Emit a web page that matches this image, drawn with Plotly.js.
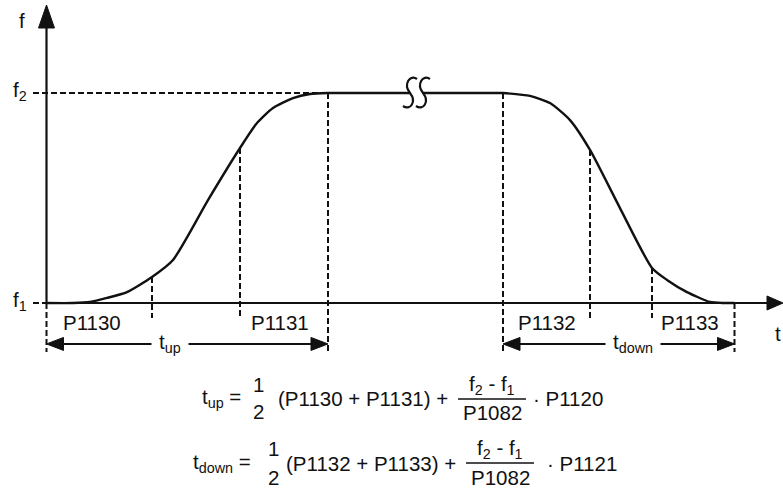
<!DOCTYPE html>
<html><head><meta charset="utf-8">
<script src="https://cdn.plot.ly/plotly-3.0.1.min.js"></script>
<style>html,body{margin:0;padding:0;background:#fff}#chart{width:783px;height:489px}</style>
</head><body><div id="chart"></div>
<script>
// ---- data (t in arbitrary time units, f normalised: f1 = 0, f2 = 1) ----
const riseT = [0, 2.65, 4.35, 6.05, 8.05, 10.55, 12.65, 16.15, 19.35, 21.05, 22.65, 24.65, 26.35, 28.15];
const riseF = [0, 0, 0.005, 0.024, 0.052, 0.124, 0.205, 0.490, 0.738, 0.857, 0.929, 0.976, 0.995, 1];
const holdT = [28.15, 36.35, null, 37.65, 45.65];
const holdF = [1, 1, null, 1, 1];
const fallT = [45.65, 48.35, 50.35, 52.35, 54.35, 57.35, 60.55, 62.05, 64.05, 66.35, 67.65, 68.8];
const fallF = [1, 0.986, 0.952, 0.871, 0.729, 0.452, 0.167, 0.110, 0.052, 0.005, 0, 0];

const markT      = [0, 10.55, 19.35, 28.15, 45.65, 54.35, 60.55, 68.8];
const markTop    = [0, 0.124, 0.738, 1, 1, 0.729, 0.167, 0];
const markBottom = [-0.233, -0.071, -0.071, -0.233, -0.233, -0.071, -0.071, -0.233];

const paramLabels = ['P1130', 'P1131', 'P1132', 'P1133'];
const paramT      = [4.55, 23.35, 50.05, 64.35];
const paramF      = -0.095;

const spanLabels = ['t<sub>up</sub>', 't<sub>down</sub>'];
const spanStart  = [0, 45.65];
const spanEnd    = [28.15, 68.8];
const spanTextT  = [12.35, 58.65];
const spanF      = -0.195;

const levelLabels = ['f<sub>1</sub>', 'f<sub>2</sub>'];
const levelF      = [0, 1];
const breakT      = [36.35, 37.65];

const formula1 = ['t<sub>up</sub> =', '1', '2', '(P1130 + P1131) +', 'f<sub>2</sub> - f<sub>1</sub>', 'P1082', '· P1120'];
const formula2 = ['t<sub>down</sub> =', '1', '2', '(P1132 + P1133) +', 'f<sub>2</sub> - f<sub>1</sub>', 'P1082', '· P1121'];

// ---- pixel helpers (layout only) ----
const tx = px => (px - 46.5) / 10;
const fy = py => (303 - py) / 210;
const INK = '#111';
const FONT = {family: 'Arial, "Liberation Sans", sans-serif', size: 20.5, color: INK};

const traces = [];
// axes
traces.push({x: [0, 0], y: [0, fy(26)], mode: 'lines', line: {color: INK, width: 2.2}});
traces.push({x: [0, tx(769)], y: [0, 0], mode: 'lines', line: {color: INK, width: 2.2}});
// dashed guides
let gx = [], gy = [];
markT.forEach((t, i) => { gx.push(t, t, null); gy.push(markTop[i], markBottom[i], null); });
gx.push(tx(33), riseT[riseT.length - 1], null, tx(33), 0);
gy.push(1, 1, null, 0, 0);
traces.push({x: gx, y: gy, mode: 'lines', line: {color: INK, width: 2, dash: '6px,3px'}});
// curve
traces.push({x: riseT, y: riseF, mode: 'lines', line: {color: INK, width: 2.4, shape: 'spline', smoothing: 0.6}});
traces.push({x: holdT, y: holdF, mode: 'lines', line: {color: INK, width: 2.4}});
traces.push({x: fallT, y: fallF, mode: 'lines', line: {color: INK, width: 2.4, shape: 'spline', smoothing: 0.6}});
// span arrows
let sx = [], sy = [], hx = [], hy = [];
const hl = 1.7, hh = 6.5 / 210;
spanStart.forEach((s, i) => {
  const e = spanEnd[i];
  sx.push(s + 0.5, e - 0.5, null); sy.push(spanF, spanF, null);
  hx.push(s, s + hl, s + hl, s, null); hy.push(spanF, spanF + hh, spanF - hh, spanF, null);
  hx.push(e, e - hl, e - hl, e, null); hy.push(spanF, spanF + hh, spanF - hh, spanF, null);
});
// axis arrowheads
hx.push(0, -0.8, 0.8, 0, null); hy.push(fy(5), fy(28), fy(28), fy(5), null);
hx.push(tx(783), tx(767), tx(767), tx(783), null); hy.push(0, 7 / 210, -7 / 210, 0, null);
traces.push({x: sx, y: sy, mode: 'lines', line: {color: INK, width: 2}});
traces.push({x: hx, y: hy, mode: 'lines', fill: 'toself', fillcolor: INK, line: {color: INK, width: 1}});

const ann = [];
const A = (text, x, y, xanchor, extra) => ann.push(Object.assign({text, x, y, xref: 'x', yref: 'y', showarrow: false, xanchor: xanchor || 'center', yanchor: 'middle', font: FONT}, extra || {}));
A('f', tx(22), fy(20));
levelLabels.forEach((l, i) => A(l, tx(20), levelF[i] + 0.01));
A('t', tx(778), fy(333));
paramLabels.forEach((l, i) => A(l, paramT[i], paramF));
spanLabels.forEach((l, i) => A(l, spanTextT[i], spanF + 0.005, 'center', {bgcolor: '#fff', borderpad: 7}));

// formulas
const f1y = 398, f2y = 463;
A(formula1[0], tx(243), fy(f1y), 'right');
A(formula1[1], tx(258), fy(384));
A(formula1[2], tx(258), fy(411));
A(formula1[3], tx(276), fy(f1y), 'left');
A(formula1[4], tx(492), fy(385));
A(formula1[5], tx(492), fy(412));
A(formula1[6], tx(531), fy(f1y), 'left');
A(formula2[0], tx(253), fy(f2y), 'right');
A(formula2[1], tx(273), fy(448));
A(formula2[2], tx(273), fy(477));
A(formula2[3], tx(284), fy(f2y), 'left');
A(formula2[4], tx(500), fy(449));
A(formula2[5], tx(500), fy(477));
A(formula2[6], tx(545), fy(f2y), 'left');

const shapes = [
  {type: 'line', xref: 'x', yref: 'y', x0: tx(458), x1: tx(526), y0: fy(399), y1: fy(399), line: {color: INK, width: 1.6}},
  {type: 'line', xref: 'x', yref: 'y', x0: tx(466), x1: tx(534), y0: fy(463), y1: fy(463), line: {color: INK, width: 1.6}}
];
// break symbol (two S curves)
breakT.forEach(t => {
  const c = 46.5 + t * 10;
  const P = (dx, py) => tx(c + dx) + ',' + fy(py);
  shapes.push({type: 'path', xref: 'x', yref: 'y', line: {color: INK, width: 2.2},
    path: 'M' + P(7, 79) + ' C' + P(0, 74) + ' ' + P(-7, 84) + ' ' + P(0, 93) +
          ' C' + P(7, 102) + ' ' + P(0, 111) + ' ' + P(-7, 106)});
});

const layout = {
  width: 783, height: 489, margin: {l: 0, r: 0, t: 0, b: 0},
  paper_bgcolor: '#fff', plot_bgcolor: '#fff', showlegend: false,
  xaxis: {range: [tx(0), tx(783)], visible: false, fixedrange: true},
  yaxis: {range: [fy(489), fy(0)], visible: false, fixedrange: true},
  annotations: ann, shapes: shapes, hovermode: false
};
Plotly.newPlot('chart', traces, layout, {displayModeBar: false});
</script></body></html>
